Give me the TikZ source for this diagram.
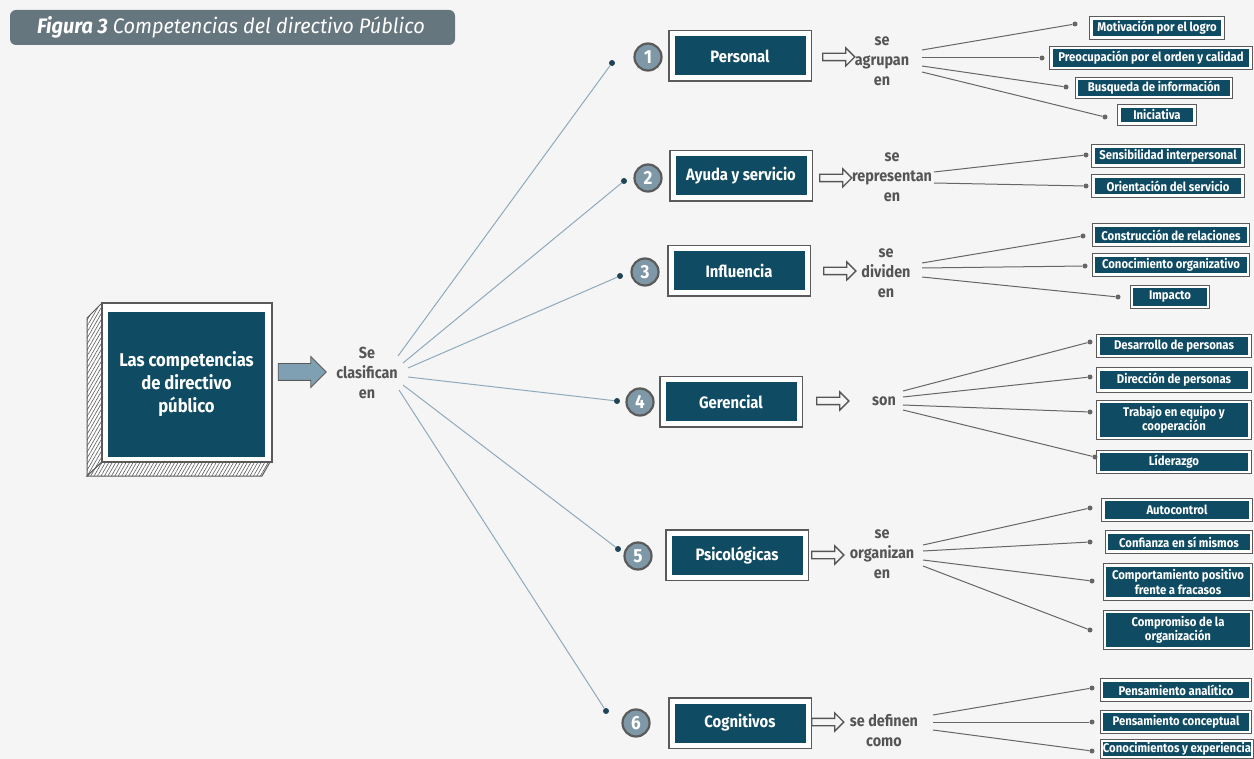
\documentclass[tikz,border=0pt]{standalone}
\usepackage{fontspec}
\setmainfont{Fira Sans}[FakeStretch=0.9]
\newfontfamily\titlefont{Fira Sans}[FakeStretch=0.95]
\usetikzlibrary{arrows.meta,shapes.arrows,patterns.meta}

\definecolor{bg}{HTML}{F5F5F5}
\definecolor{navy}{HTML}{0F4B63}
\definecolor{frame}{HTML}{5A5A5A}
\definecolor{titlebar}{HTML}{66767E}
\definecolor{numfill}{HTML}{7F98A7}
\definecolor{dotnavy}{HTML}{1E4456}
\definecolor{fanblue}{HTML}{8FAABA}
\definecolor{lgray}{HTML}{666666}
\definecolor{vgray}{HTML}{555555}
\definecolor{bigarrow}{HTML}{7FA0B2}

\tikzset{
  catbox/.style={fill=navy, text=white, font=\bfseries\fontsize{16.5}{20}\selectfont,
    minimum width=136pt, minimum height=44pt, inner sep=0pt,
    draw=white, line width=5pt, preaction={draw=frame, line width=8.5pt}},
  leafbox/.style={fill=navy, text=white, font=\bfseries\fontsize{12.6}{14.5}\selectfont,
    inner sep=0pt, align=center,
    draw=white, line width=2.5pt, preaction={draw=frame, line width=4.5pt}},
  numc/.style={circle, fill=numfill, draw=frame, line width=2.2pt, minimum size=27pt,
    inner sep=0pt, text=white, font=\bfseries\fontsize{19}{19}\selectfont},
  fandot/.style={circle, fill=dotnavy, minimum size=6pt, inner sep=0pt},
  leafdot/.style={circle, fill=lgray, minimum size=5pt, inner sep=0pt},
  fanline/.style={draw=fanblue, line width=1pt},
  leafline/.style={draw=lgray, line width=1pt},
  verb/.style={text=vgray, font=\bfseries\fontsize{16}{20}\selectfont, align=center, inner sep=0pt},
  hollow/.style={single arrow, draw=vgray, fill=bg, line width=1.3pt, minimum height=32pt,
    minimum width=17pt, single arrow head extend=5.5pt, inner xsep=0pt, inner ysep=3pt},
}

\begin{document}
\begin{tikzpicture}[x=1pt,y=-1pt]
\clip (0,0) rectangle (1254,759);
\fill[bg] (0,0) rectangle (1254,759);

% title bar
\fill[titlebar, rounded corners=6pt] (10,10) rectangle (455,45);
\node[anchor=west, text=white, font=\titlefont\itshape\fontsize{21}{21}\selectfont, inner sep=0pt] (title)
  at (37,27.5) {\textbf{Figura 3} Competencias del directivo Público};

% central block with hatched sides
\filldraw[fill=white, draw=frame, line width=1pt,
  postaction={pattern={Lines[angle=60,distance=3pt,line width=0.6pt]}, pattern color=frame}]
  (87,318) -- (102,303) -- (102,462) -- (87,476) -- cycle;
\filldraw[fill=white, draw=frame, line width=1pt,
  postaction={pattern={Lines[angle=60,distance=3pt,line width=0.6pt]}, pattern color=frame}]
  (87,476) -- (102,462) -- (270,462) -- (262,476) -- cycle;
\filldraw[fill=white, draw=frame, line width=1.8pt] (102,303) rectangle (272,462);
\node[fill=navy, text=white, font=\bfseries\fontsize{18.5}{23}\selectfont, align=center,
  minimum width=157pt, minimum height=145pt, inner sep=0pt] (main) at (186.5,384.5)
  {Las competencias\\de directivo\\público};

\node[single arrow, draw=frame, fill=bigarrow, line width=0.8pt, minimum height=48pt,
  minimum width=30pt, single arrow head extend=7pt, inner xsep=0pt, inner ysep=8pt] (bigarr) at (298,372) {};
\node[verb] (clas) at (367,373) {Se\\clasifican\\en};

% fan out to the six groups
\coordinate (f1) at (398,356);
\coordinate (f2) at (403,363);
\coordinate (f3) at (408,368);
\coordinate (f4) at (408,377);
\coordinate (f5) at (403,385);
\coordinate (f6) at (399,390);
\node[fandot] (d1) at (612,63) {};
\node[fandot] (d2) at (624,181) {};
\node[fandot] (d3) at (620,276) {};
\node[fandot] (d4) at (617,401) {};
\node[fandot] (d5) at (618,549) {};
\node[fandot] (d6) at (606,711) {};
\foreach \i in {1,...,6} \draw[fanline] (f\i) -- (d\i);

% numbered groups
\node[numc] (c1) at (648,57) {1};
\node[numc] (c2) at (648,178) {2};
\node[numc] (c3) at (645,272) {3};
\node[numc] (c4) at (640,402) {4};
\node[numc] (c5) at (638,556) {5};
\node[numc] (c6) at (636,723) {6};

\node[catbox] (b1) at (740,56) {Personal};
\node[catbox] (b2) at (741,176) {Ayuda y servicio};
\node[catbox] (b3) at (739,271) {Influencia};
\node[catbox] (b4) at (731,402) {Gerencial};
\node[catbox] (b5) at (737,555) {Psicológicas};
\node[catbox] (b6) at (740,723) {Cognitivos};

\node[verb] (v1) at (882,61) {se\\agrupan\\en};
\node[verb] (v2) at (892,177) {se\\representan\\en};
\node[verb] (v3) at (886,273) {se\\dividen\\en};
\node[verb] (v4) at (884,401) {son};
\node[verb] (v5) at (882,554) {se\\organizan\\en};
\node[verb] (v6) at (884,731) {se definen\\como};

% hollow arrows between each group and its verb
\node[hollow] (h1) at (837,57) {};
\node[hollow] (h2) at (834,178) {};
\node[hollow] (h3) at (838,271) {};
\node[hollow] (h4) at (831,401) {};
\node[hollow] (h5) at (826,555) {};
\node[hollow] (h6) at (826,722) {};

% group 1
\node[leafbox, minimum width=131pt, minimum height=19pt] (l11) at (1157,28) {Motivación por el logro};
\node[leafbox, minimum width=199pt, minimum height=20pt] (l12) at (1151,58) {Preocupación por el orden y calidad};
\node[leafbox, minimum width=154pt, minimum height=18pt] (l13) at (1154,88) {Busqueda de información};
\node[leafbox, minimum width=75pt, minimum height=17pt] (l14) at (1157,115) {Iniciativa};
\node[leafdot] (e11) at (1075,24) {};
\node[leafdot] (e12) at (1042,58) {};
\node[leafdot] (e13) at (1066,87) {};
\node[leafdot] (e14) at (1105,117) {};
\coordinate (s11) at (922,50);
\coordinate (s12) at (922,58);
\coordinate (s13) at (922,66);
\coordinate (s14) at (922,72);
\foreach \j in {1,...,4} \draw[leafline] (s1\j) -- (e1\j);

% group 2
\node[leafbox, minimum width=149pt, minimum height=19pt] (l21) at (1168,156) {Sensibilidad interpersonal};
\node[leafbox, minimum width=149pt, minimum height=19pt] (l22) at (1168,186) {Orientación del servicio};
\node[leafdot] (e21) at (1086,155) {};
\node[leafdot] (e22) at (1086,186) {};
\coordinate (s21) at (934,172);
\coordinate (s22) at (934,183);
\foreach \j in {1,2} \draw[leafline] (s2\j) -- (e2\j);

% group 3
\node[leafbox, minimum width=154pt, minimum height=19pt] (l31) at (1171,235) {Construcción de relaciones};
\node[leafbox, minimum width=154pt, minimum height=19pt] (l32) at (1171,265) {Conocimiento organizativo};
\node[leafbox, minimum width=76pt, minimum height=20pt] (l33) at (1170,297) {Impacto};
\node[leafdot] (e31) at (1083,236) {};
\node[leafdot] (e32) at (1085,266) {};
\node[leafdot] (e33) at (1118,297) {};
\coordinate (s31) at (922,263);
\coordinate (s32) at (922,268);
\coordinate (s33) at (922,277);
\foreach \j in {1,2,3} \draw[leafline] (s3\j) -- (e3\j);

% group 4
\node[leafbox, minimum width=151pt, minimum height=20pt] (l41) at (1174,346) {Desarrollo de personas};
\node[leafbox, minimum width=151pt, minimum height=21pt] (l42) at (1174,380) {Dirección de personas};
\node[leafbox, minimum width=151pt, minimum height=36pt] (l43) at (1174,420) {Trabajo en equipo y\\cooperación};
\node[leafbox, minimum width=151pt, minimum height=20pt] (l44) at (1174,462) {Líderazgo};
\node[leafdot] (e41) at (1090,342) {};
\node[leafdot] (e42) at (1090,377) {};
\node[leafdot] (e43) at (1090,412) {};
\node[leafdot] (e44) at (1095,457) {};
\coordinate (s41) at (903,391);
\coordinate (s42) at (903,397);
\coordinate (s43) at (903,405);
\coordinate (s44) at (903,410);
\foreach \j in {1,...,4} \draw[leafline] (s4\j) -- (e4\j);

% group 5
\node[leafbox, minimum width=147pt, minimum height=20pt] (l51) at (1177,510) {Autocontrol};
\node[leafbox, minimum width=144pt, minimum height=19pt] (l52) at (1179,542) {Confianza en sí mismos};
\node[leafbox, minimum width=146pt, minimum height=33pt] (l53) at (1178,582) {Comportamiento positivo\\frente a fracasos};
\node[leafbox, minimum width=146pt, minimum height=36pt] (l54) at (1178,630) {Compromiso de la\\organización};
\node[leafdot] (e51) at (1090,508) {};
\node[leafdot] (e52) at (1090,542) {};
\node[leafdot] (e53) at (1092,581) {};
\node[leafdot] (e54) at (1090,630) {};
\coordinate (s51) at (923,545);
\coordinate (s52) at (923,551);
\coordinate (s53) at (923,560);
\coordinate (s54) at (923,566);
\foreach \j in {1,...,4} \draw[leafline] (s5\j) -- (e5\j);

% group 6
\node[leafbox, minimum width=148pt, minimum height=19pt] (l61) at (1176,690) {Pensamiento analítico};
\node[leafbox, minimum width=148pt, minimum height=20pt] (l62) at (1176,722) {Pensamiento conceptual};
\node[leafbox, minimum width=150pt, minimum height=16pt] (l63) at (1177,749) {Conocimientos y experiencia};
\node[leafdot] (e61) at (1092,688) {};
\node[leafdot] (e62) at (1092,722) {};
\node[leafdot] (e63) at (1092,751) {};
\coordinate (s61) at (933,715);
\coordinate (s62) at (933,722);
\coordinate (s63) at (933,730);
\foreach \j in {1,2,3} \draw[leafline] (s6\j) -- (e6\j);
\end{tikzpicture}
\end{document}
